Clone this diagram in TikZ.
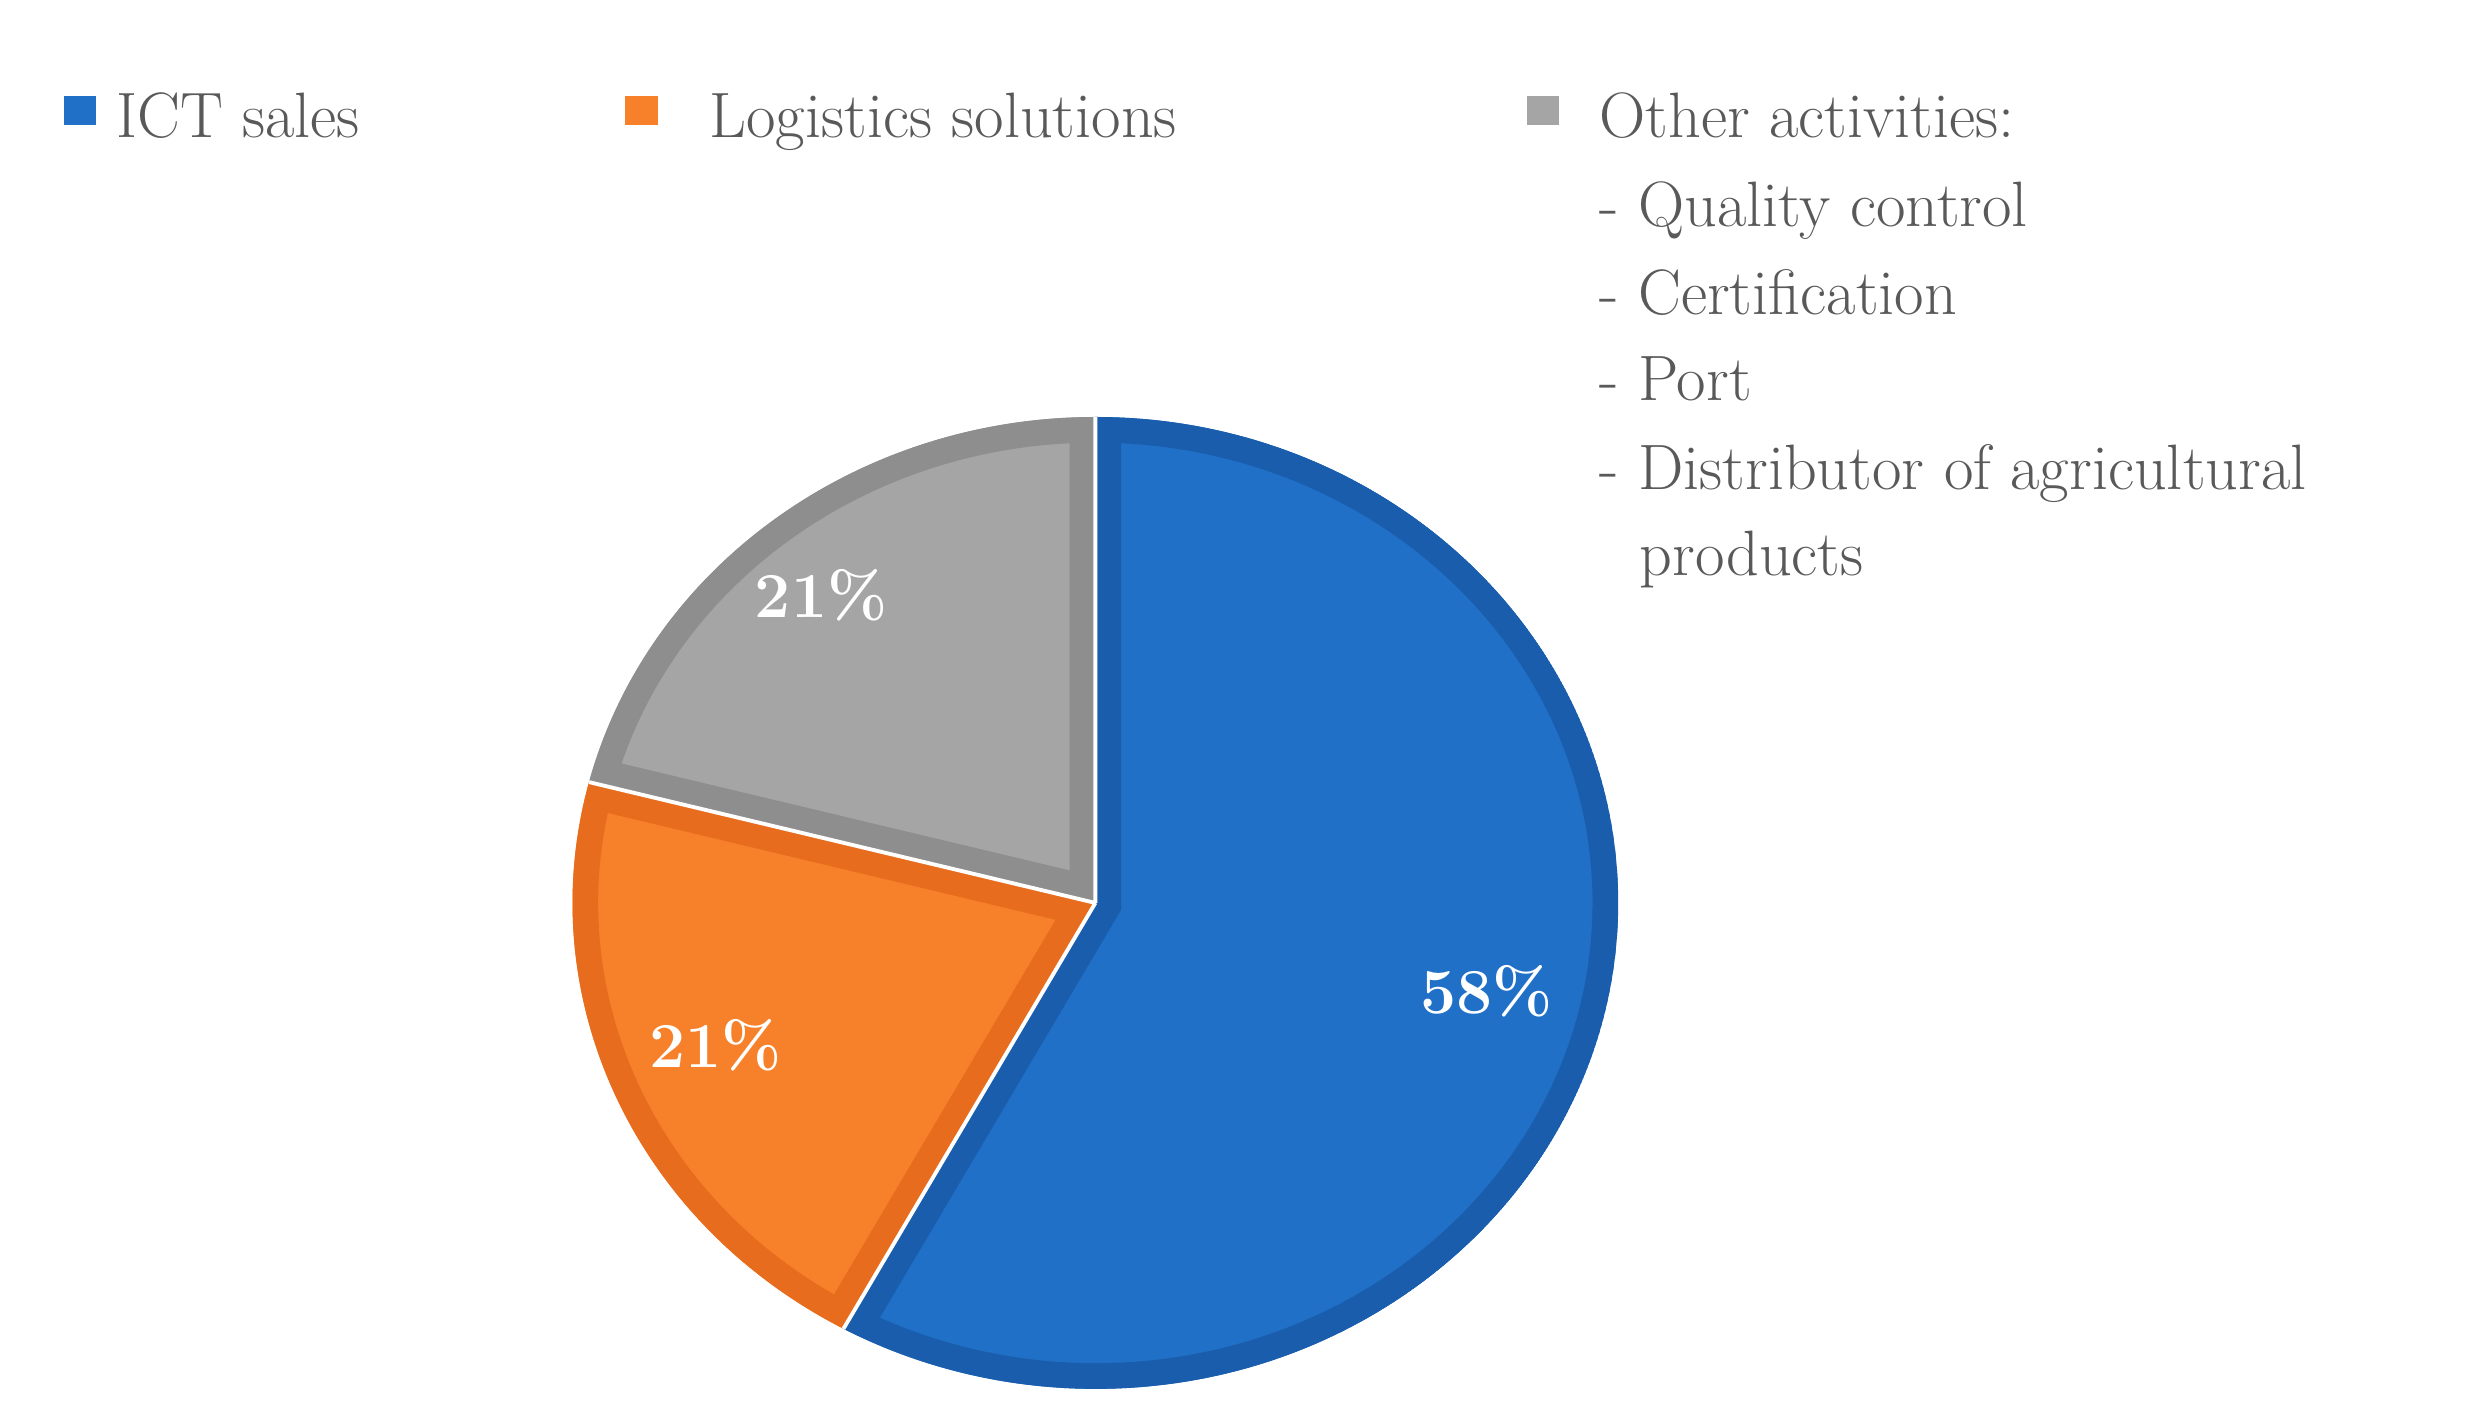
\documentclass[tikz,border=0pt]{standalone}
\begin{document}
\definecolor{bl}{HTML}{1F70C6}\definecolor{blb}{HTML}{1A5DAD}
\definecolor{or}{HTML}{F7812A}\definecolor{orb}{HTML}{E86C1E}
\definecolor{gr}{HTML}{A5A5A5}\definecolor{grb}{HTML}{8E8E8E}
\definecolor{tx}{HTML}{595959}
\begin{tikzpicture}[x=0.5pt,y=-0.5pt,
  leg/.style={anchor=base west,text=tx,font=\fontsize{20}{27}\selectfont,inner sep=0},
  pct/.style={text=white,font=\bfseries\fontsize{20}{24}\selectfont}]
\useasboundingbox (0,0) rectangle (1552,880);
\begin{scope}[shift={(683,563)},x=0.5pt,y=0.5pt]
\def\slice#1#2#3#4{%
  \begin{scope}
  \clip (0,0) -- ({326*cos(#1)},{303*sin(#1)}) arc[start angle=#1,end angle=#2,x radius=326,y radius=303] -- cycle;
  \fill[#3] (0,0) -- ({326*cos(#1)},{303*sin(#1)}) arc[start angle=#1,end angle=#2,x radius=326,y radius=303] -- cycle;
  \draw[#4,line width=16pt] (0,0) -- ({326*cos(#1)},{303*sin(#1)}) arc[start angle=#1,end angle=#2,x radius=326,y radius=303] -- cycle;
  \end{scope}}
\slice{90}{-118.8}{bl}{blb}
\slice{-118.8}{-194.4}{or}{orb}
\slice{-194.4}{-270}{gr}{grb}
\draw[white,line width=1.2pt] (0,0) -- ({326*cos(-118.8)},{303*sin(-118.8)})
  (0,0) -- ({326*cos(-194.4)},{303*sin(-194.4)}) (0,0) -- (0,303);
\end{scope}
\node[pct] (p1) at (927,618) {58\%};
\node[pct] (p2) at (446,652) {21\%};
\node[pct] (p3) at (512,371) {21\%};
\fill[bl] (40,60) rectangle (60,78);
\node[leg] (l1) at (72,86) {ICT sales};
\fill[or] (390,60) rectangle (410,78);
\node[leg] (l2) at (442,86) {Logistics solutions};
\fill[gr] (952,60) rectangle (972,78);
\node[leg] (l3) at (997,86) {Other activities:};
\node[leg] (l4) at (997,141) {- Quality control};
\node[leg] (l5) at (997,196) {- Certification};
\node[leg] (l6) at (997,250) {- Port};
\node[leg] (l7) at (997,305) {- Distributor of agricultural};
\node[leg] (l8) at (1022,359) {products};
\end{tikzpicture}
\end{document}
